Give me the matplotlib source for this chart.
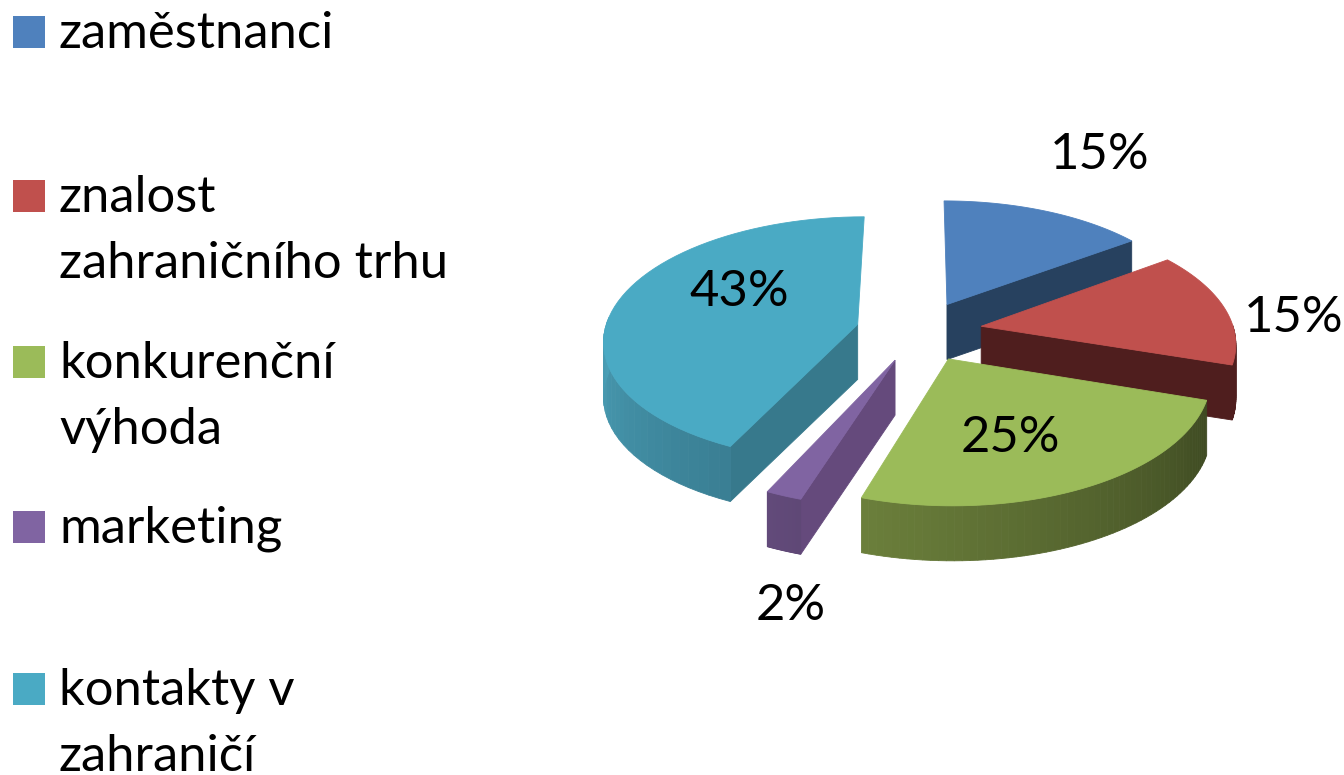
import numpy as np
import matplotlib
matplotlib.use('Agg')
import matplotlib.pyplot as plt
from matplotlib.colors import to_rgb
from matplotlib.patches import Rectangle

labels = ['zaměstnanci', 'znalost\nzahraničního trhu', 'konkurenční\nvýhoda', 'marketing', 'kontakty v\nzahraničí']
values = [15, 15, 25, 2, 43]

top_colors = ['#4f81bd', '#c0504d', '#9bbb59', '#8064a2', '#4aaac4']
cut_colors = ['#27415f', '#4f1e1e', '#4a5a2a', '#654a7c', '#37798c']
# outer wall colour at start and end of the visible arc
arc_colors = [('#27415f', '#27415f'), ('#4f1e1e', '#4f1e1e'), ('#3e4a22', '#6b7f3b'),
              ('#5f4876', '#624a7a'), ('#3a7f94', '#4a9fb6')]

legend_base = [48, 212, 378, 543, 705]
label_pos = [(1100, 155), (1294, 318), (1010, 438), (791, 606), (739, 292)]

cx, cy = 919, 331
rx, ry = 253, 122
persp = 0.12
depth = 55
explode = 0.25
line_h = 66
fsize = 36.5

fig = plt.figure(figsize=(13.44, 7.75), dpi=100)
ax = fig.add_axes([0, 0, 1, 1])
ax.set_xlim(0, 1344)
ax.set_ylim(775, 0)
ax.axis('off')


def project(x, y):
    s = 1 / (1 + persp * y)
    return cx + rx * x * s, cy - ry * y * s


def mix(c1, c2, t):
    return tuple(a + (b - a) * t for a, b in zip(to_rgb(c1), to_rgb(c2)))


def quad(p1, p2, color):
    xs = [p1[0], p2[0], p2[0], p1[0]]
    ys = [p1[1], p2[1], p2[1] + depth, p1[1] + depth]
    ax.fill(xs, ys, color=color, lw=0.6, zorder=z)


edges = np.cumsum([0] + values) * 3.6
z = 1
for i in [4, 0, 1, 2, 3]:
    a0, a1 = np.radians(edges[i]), np.radians(edges[i + 1])
    mid = (a0 + a1) / 2
    ox, oy = explode * np.sin(mid), explode * np.cos(mid)
    apex = project(ox, oy)
    ang = np.linspace(a0, a1, 60)
    rim = [project(ox + np.sin(a), oy + np.cos(a)) for a in ang]

    # cut faces turned towards the viewer
    if np.sin(a1) > 0:
        quad(apex, rim[-1], cut_colors[i])
    if np.sin(a0) < 0:
        quad(apex, rim[0], cut_colors[i])

    # outer wall, front half only
    front = [k for k in range(len(ang) - 1) if np.cos(ang[k]) < 0.02]
    for n, k in enumerate(front):
        t = n / max(len(front) - 1, 1)
        quad(rim[k], rim[k + 1], mix(arc_colors[i][0], arc_colors[i][1], t))

    xs = [apex[0]] + [p[0] for p in rim]
    ys = [apex[1]] + [p[1] for p in rim]
    ax.fill(xs, ys, color=top_colors[i], lw=0.6, zorder=z + 1)
    z += 2

    ax.text(label_pos[i][0], label_pos[i][1], f'{values[i]}%', fontsize=fsize, family='Lato',
            ha='center', va='center', color='black', zorder=50)

for i, lab in enumerate(labels):
    base = legend_base[i]
    ax.add_patch(Rectangle((13, base - 32), 32, 32, fc=top_colors[i], ec='none'))
    for n, line in enumerate(lab.split('\n')):
        ax.text(59, base + n * line_h, line, fontsize=fsize, family='Lato', ha='left', va='baseline', color='black')

fig.savefig('out.png', dpi=100)
